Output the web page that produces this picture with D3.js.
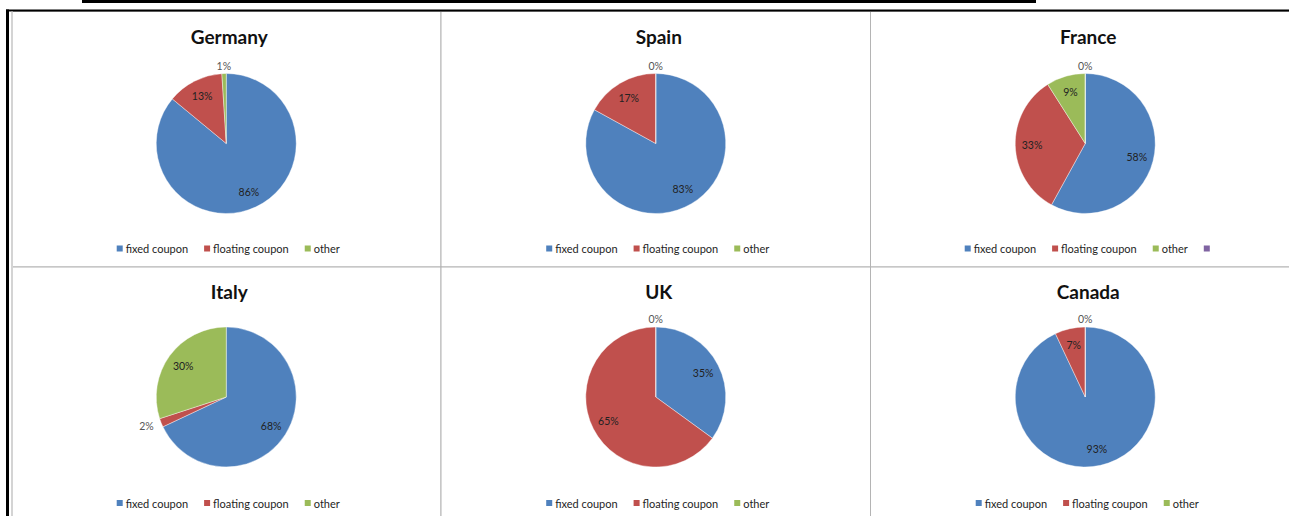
<!DOCTYPE html>
<html>
<head>
<meta charset="utf-8">
<script src="https://cdn.jsdelivr.net/npm/d3@7"></script>
<style>
  html, body { margin: 0; padding: 0; background: #ffffff; }
  svg { display: block; }
  text { font-family: Lato, "Open Sans", "Liberation Sans", sans-serif; }
</style>
</head>
<body>
<svg id="chart" width="1289" height="516"></svg>
<script>
// Coupon structure of government debt, by country (shares in %)
const countries = ["Germany", "Spain", "France", "Italy", "UK", "Canada"];
const seriesNames = ["fixed coupon", "floating coupon", "other", ""];
const fixedCoupon    = [86, 83, 58, 68, 35, 93];
const floatingCoupon = [13, 17, 33,  2, 65,  7];
const otherCoupon    = [ 1,  0,  9, 30,  0,  0];
const unnamedSeries  = [null, null, 0, null, null, null];

const seriesColors = ["#4F81BD", "#C0504D", "#9BBB59", "#8064A2"];

const svg = d3.select("#chart");
const W = 1289, H = 516;

// Panel grid
const cols = 3, rows = 2;
const gridX = d3.scaleLinear().domain([0, cols]).range([11.5, 11.5 + 429.5 * cols]);
const gridY = d3.scaleLinear().domain([0, rows]).range([11.5, 11.5 + 255.5 * rows]);

const color = d3.scaleOrdinal().domain(seriesNames).range(seriesColors);
const radius = 70;
const pie = d3.pie().sort(null).value(d => d.value);
const arc = d3.arc().innerRadius(0).outerRadius(radius);
const labelArc = d3.arc().innerRadius(radius * 0.76).outerRadius(radius * 0.76);
const fmt = v => Math.round(v) + "%";

// Top rule above the frame
svg.append("rect").attr("x", 82).attr("y", 0).attr("width", 954).attr("height", 3).attr("fill", "#000");

countries.forEach((country, i) => {
  const col = i % cols, row = Math.floor(i / cols);
  const x0 = gridX(col), x1 = gridX(col + 1);
  const y0 = gridY(row), y1 = gridY(row + 1);
  const cx = (x0 + x1) / 2;

  const data = seriesNames.map((name, s) => ({
    name,
    value: [fixedCoupon, floatingCoupon, otherCoupon, unnamedSeries][s][i]
  })).filter(d => d.value !== null);

  const g = svg.append("g");

  // Panel border
  g.append("rect")
    .attr("x", x0).attr("y", y0)
    .attr("width", x1 - x0).attr("height", y1 - y0)
    .attr("fill", "#fff").attr("stroke", "#b4b4b4").attr("stroke-width", 1);

  // Title
  g.append("text")
    .attr("x", cx + 3).attr("y", y0 + 24.5)
    .attr("text-anchor", "middle").attr("dominant-baseline", "central")
    .attr("font-size", 19).attr("font-weight", 700).attr("fill", "#111")
    .text(country);

  const pg = g.append("g").attr("transform", `translate(${cx},${y0 + 132 - row * 2})`);
  const arcs = pie(data);

  pg.selectAll("path").data(arcs).join("path")
    .attr("d", arc)
    .attr("fill", d => color(d.data.name))
    .attr("stroke", "#fff").attr("stroke-width", 0.4);

  // Percentage labels: small shares sit outside the pie, the rest inside
  arcs.forEach(d => {
    const mid = (d.startAngle + d.endAngle) / 2;
    const outside = d.data.value < 5;
    let px, py, anchor = "middle";
    if (outside) {
      const rr = radius + 8;
      px = Math.sin(mid) * rr;
      py = -Math.cos(mid) * rr;
      const s = Math.sin(mid);
      if (s < -0.3) anchor = "end";
      else if (s > 0.3) anchor = "start";
    } else {
      [px, py] = labelArc.centroid(d);
    }
    pg.append("text")
      .attr("x", px).attr("y", py)
      .attr("text-anchor", anchor).attr("dominant-baseline", "central")
      .attr("font-size", 10.5)
      .attr("fill", outside ? "#555555" : "#222222")
      .text(fmt(d.data.value));
  });

  // Legend
  const lg = g.append("g");
  let lx = 0;
  data.forEach(d => {
    const item = lg.append("g").attr("transform", `translate(${lx},0)`);
    item.append("rect").attr("x", 0).attr("y", -3).attr("width", 6).attr("height", 6)
      .attr("fill", color(d.name));
    let w = 6;
    if (d.name) {
      const t = item.append("text").attr("x", 9).attr("y", 0)
        .attr("dominant-baseline", "central")
        .attr("font-size", 11).attr("fill", "#1e1e1e")
        .text(d.name);
      w = 9 + t.node().getComputedTextLength();
    }
    lx += w + 16;
  });
  const lw = lx - 16;
  lg.attr("transform", `translate(${cx + 2 - lw / 2},${y0 + 237 - row})`);
});

// Outer frame: heavy black top and left edges with a light inner line
svg.append("rect").attr("x", 6).attr("y", 9.5).attr("width", W - 6).attr("height", 2).attr("fill", "#000");
svg.append("rect").attr("x", 6).attr("y", 9.5).attr("width", 3).attr("height", H - 9.5).attr("fill", "#000");
svg.append("rect").attr("x", 11).attr("y", 11.5).attr("width", 2).attr("height", H - 11.5).attr("fill", "#d4d4d4");
</script>
</body>
</html>
